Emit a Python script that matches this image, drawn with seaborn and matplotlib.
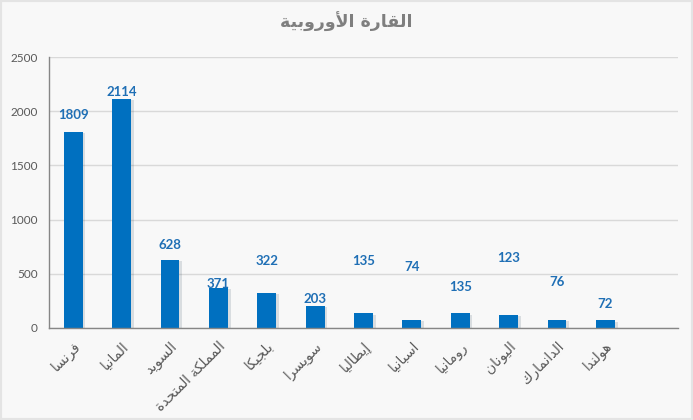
import numpy as np
import pandas as pd
import matplotlib
matplotlib.use("Agg")
import matplotlib.pyplot as plt
import matplotlib.patheffects as pe
import seaborn as sns

# =============================
# Data
# =============================
countries = ["فرنسا", "المانيا", "السويد", "المملكة المتحدة", "بلجيكا", "سويسرا",
             "إيطاليا", "اسبانيا", "رومانيا", "اليونان", "الدانمارك", "هولندا"]
values = [1809, 2114, 628, 371, 322, 203, 135, 74, 135, 123, 76, 72]
# where the value labels sit (data units), as placed by hand in the original
label_pos = [1965, 2177, 766, 406, 618, 268, 618, 563, 378, 646, 424, 221]
title = "القارة الأوروبية"
y_ticks = [0, 500, 1000, 1500, 2000, 2500]

# =============================
# Minimal Arabic shaping (matplotlib has no RTL / joining support)
# =============================
FORMS = {  # isolated, final, initial, medial
    "ا": (0xFE8D, 0xFE8E), "أ": (0xFE83, 0xFE84), "إ": (0xFE87, 0xFE88),
    "ب": (0xFE8F, 0xFE90, 0xFE91, 0xFE92), "ة": (0xFE93, 0xFE94),
    "ت": (0xFE95, 0xFE96, 0xFE97, 0xFE98), "ج": (0xFE9D, 0xFE9E, 0xFE9F, 0xFEA0),
    "ح": (0xFEA1, 0xFEA2, 0xFEA3, 0xFEA4), "د": (0xFEA9, 0xFEAA),
    "ر": (0xFEAD, 0xFEAE), "س": (0xFEB1, 0xFEB2, 0xFEB3, 0xFEB4),
    "ط": (0xFEC1, 0xFEC2, 0xFEC3, 0xFEC4), "ف": (0xFED1, 0xFED2, 0xFED3, 0xFED4),
    "ق": (0xFED5, 0xFED6, 0xFED7, 0xFED8), "ك": (0xFED9, 0xFEDA, 0xFEDB, 0xFEDC),
    "ل": (0xFEDD, 0xFEDE, 0xFEDF, 0xFEE0), "م": (0xFEE1, 0xFEE2, 0xFEE3, 0xFEE4),
    "ن": (0xFEE5, 0xFEE6, 0xFEE7, 0xFEE8), "ه": (0xFEE9, 0xFEEA, 0xFEEB, 0xFEEC),
    "و": (0xFEED, 0xFEEE), "ي": (0xFEF1, 0xFEF2, 0xFEF3, 0xFEF4),
    "لا": (0xFEFB, 0xFEFC), "لأ": (0xFEF7, 0xFEF8), "لإ": (0xFEF9, 0xFEFA),
}


def ar(s):
    toks = []
    i = 0
    while i < len(s):
        if s[i] == "ل" and i + 1 < len(s) and s[i + 1] in "اأإ":
            toks.append(s[i:i + 2])
            i += 2
        else:
            toks.append(s[i])
            i += 1
    out = []
    for k, t in enumerate(toks):
        if t not in FORMS:
            out.append(t)
            continue
        prev = toks[k - 1] if k > 0 else None
        nxt = toks[k + 1] if k + 1 < len(toks) else None
        join_prev = prev in FORMS and len(FORMS[prev]) == 4
        join_next = len(FORMS[t]) == 4 and nxt in FORMS
        f = FORMS[t]
        if join_prev and join_next:
            c = f[3]
        elif join_prev:
            c = f[1]
        elif join_next:
            c = f[2]
        else:
            c = f[0]
        out.append(chr(c))
    return "".join(out[::-1])


df = pd.DataFrame({"country": countries, "value": values})

# =============================
# Plot
# =============================
sns.set_style("white")
plt.rcParams["font.family"] = ["DejaVu Sans"]

fig = plt.figure(figsize=(6.93, 4.2), dpi=100, facecolor="#f8f8f8")
ax = fig.add_axes([49 / 693, 1 - 328 / 420, 629 / 693, 271 / 420])
ax.set_facecolor("#f8f8f8")

sns.barplot(data=df, x="country", y="value", color="#0070c0", saturation=1,
            width=0.39, ax=ax)
for p in ax.patches:
    p.set_edgecolor("none")
    p.set_path_effects([pe.SimplePatchShadow(offset=(2, -1), alpha=0.12),
                        pe.Normal()])

for i, (v, ly) in enumerate(zip(values, label_pos)):
    ax.text(i, ly, str(v), ha="center", va="center", color="#1f6fb5",
            fontsize=9.5, fontweight="bold", family=["Lato", "DejaVu Sans"])

ax.set_xlim(-0.5, 12.5)
ax.set_ylim(0, 2500)
ax.set_yticks(y_ticks)
ax.yaxis.grid(True, color="#d9d9d9", linewidth=1)
ax.set_axisbelow(True)

ax.set_xticks(np.arange(-0.5, 13, 1), minor=True)
ax.tick_params(axis="x", which="major", length=0, pad=8)
ax.tick_params(axis="x", which="minor", length=5, color="#868686", width=1)
ax.tick_params(axis="y", length=4, color="#868686", labelsize=8.5,
               labelcolor="#595959", pad=4)
for t in ax.get_yticklabels():
    t.set_family(["Lato", "DejaVu Sans"])

ax.set_xticks(range(len(countries)))
ax.set_xticklabels([ar(c) for c in countries], fontsize=10, color="#595959")
plt.setp(ax.get_xticklabels(), rotation=45, ha="right", rotation_mode="anchor")

for side in ["top", "right"]:
    ax.spines[side].set_visible(False)
for side in ["left", "bottom"]:
    ax.spines[side].set_color("#868686")
    ax.spines[side].set_linewidth(1)

ax.set_xlabel("")
ax.set_ylabel("")

fig.text(0.5, 1 - 22 / 420, ar(title), ha="center", va="center",
         fontsize=12.5, fontweight="bold", color="#7f7f7f")

# light frame on the right / bottom like the original export
fig.patches.append(plt.Rectangle((0, 0), 1, 1, transform=fig.transFigure,
                                 fill=False, edgecolor="#e4e4e4", linewidth=3))

fig.savefig("out.png", dpi=100, facecolor=fig.get_facecolor())
